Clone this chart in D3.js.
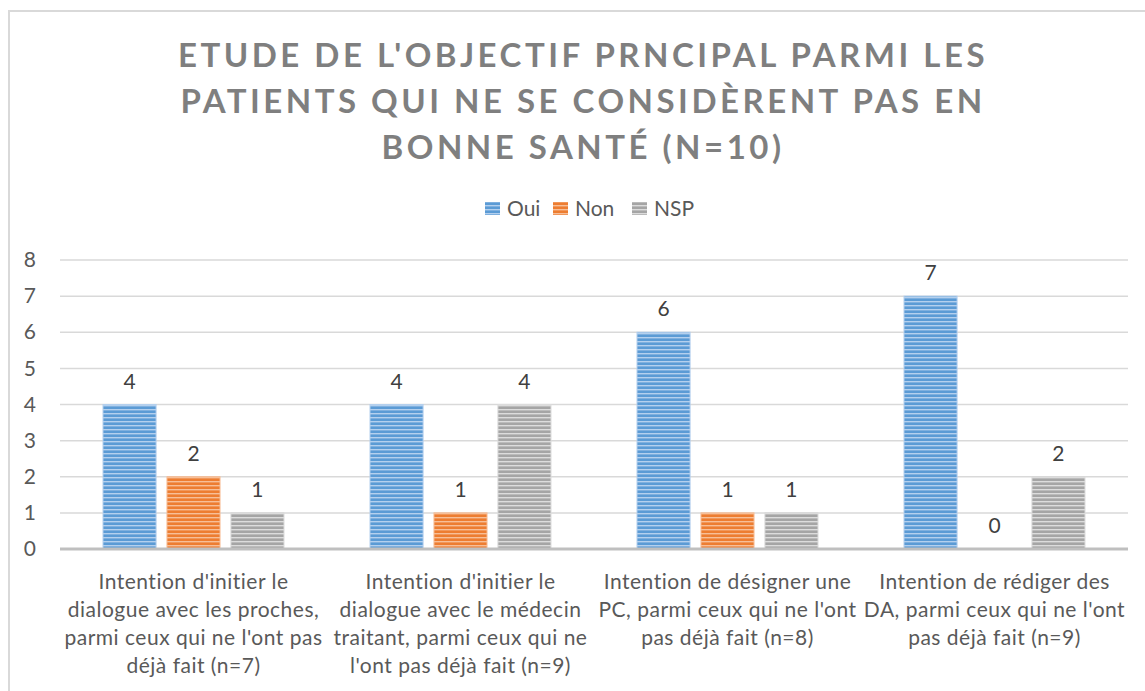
<!DOCTYPE html>
<html>
<head>
<meta charset="utf-8">
<script src="https://cdn.jsdelivr.net/npm/d3@7"></script>
<style>
  body { margin: 0; background: #fff; }
  svg { display: block; font-family: Lato, "Open Sans", sans-serif; }
</style>
</head>
<body>
<svg id="chart" width="1145" height="691"></svg>
<script>
// data
const titleLines = ["ETUDE DE L'OBJECTIF PRNCIPAL PARMI LES", "PATIENTS QUI NE SE CONSIDÈRENT PAS EN", "BONNE SANTÉ (N=10)"];
const categories = [
  ["Intention d'initier le", "dialogue avec les proches,", "parmi ceux qui ne l'ont pas", "déjà fait (n=7)"],
  ["Intention d'initier le", "dialogue avec le médecin", "traitant, parmi ceux qui ne", "l'ont pas déjà fait (n=9)"],
  ["Intention de désigner une", "PC, parmi ceux qui ne l'ont", "pas déjà fait (n=8)"],
  ["Intention de rédiger des", "DA, parmi ceux qui ne l'ont", "pas déjà fait (n=9)"]
];
const seriesNames = ["Oui", "Non", "NSP"];
const oui = [4, 4, 6, 7];
const non = [2, 1, 1, 0];
const nsp = [1, 4, 1, 2];
const yTicks = [0, 1, 2, 3, 4, 5, 6, 7, 8];

const seriesValues = [oui, non, nsp];
const colors = {
  Oui: { base: "#5b9bd5", light: "#b4d0ee" },
  Non: { base: "#ed7d31", light: "#f7bf98" },
  NSP: { base: "#a5a5a5", light: "#dcdcdc" }
};

const svg = d3.select("#chart");

// striped fills
const defs = svg.append("defs");
seriesNames.forEach(function (s) {
  const p = defs.append("pattern")
    .attr("id", "pat-" + s)
    .attr("patternUnits", "userSpaceOnUse")
    .attr("width", 8).attr("height", 4);
  p.append("rect").attr("width", 8).attr("height", 4).attr("fill", colors[s].base);
  p.append("rect").attr("y", 1).attr("width", 8).attr("height", 1.4).attr("fill", colors[s].light);
});

// outer frame
svg.append("rect")
  .attr("x", 9).attr("y", 11)
  .attr("width", 1160).attr("height", 700)
  .attr("fill", "none")
  .attr("stroke", "#d9d9d9")
  .attr("stroke-width", 2);

// title
svg.append("g").selectAll("text")
  .data(titleLines)
  .enter()
  .append("text")
  .attr("x", 583)
  .attr("y", function (d, i) { return 67 + i * 46; })
  .attr("text-anchor", "middle")
  .attr("font-size", 33)
  .attr("font-weight", "bold")
  .attr("letter-spacing", 3.5)
  .attr("fill", "#7f7f7f")
  .text(function (d) { return d; });

// legend
const legendX = [485, 553, 632];
const legend = svg.append("g");
seriesNames.forEach(function (s, i) {
  legend.append("rect")
    .attr("x", legendX[i]).attr("y", 202)
    .attr("width", 15).attr("height", 13)
    .attr("fill", "url(#pat-" + s + ")");
  legend.append("text")
    .attr("x", legendX[i] + 22).attr("y", 216)
    .attr("font-size", 21)
    .attr("fill", "#595959")
    .text(s);
});

const margin = { left: 60, right: 17, top: 260, bottom: 142 };
const width = 1145 - margin.left - margin.right;
const height = 691 - margin.top - margin.bottom;
const g = svg.append("g").attr("transform", "translate(" + margin.left + "," + margin.top + ")");

const x0 = d3.scaleBand().domain(d3.range(categories.length)).range([0, width]).padding(0);
const x1 = d3.scaleBand().domain(seriesNames).range([43, x0.bandwidth() - 43]).paddingInner(0.17).paddingOuter(0);
const y = d3.scaleLinear().domain([0, 8]).range([height, 0]);

// gridlines
g.append("g")
  .selectAll("line")
  .data(yTicks.filter(function (t) { return t > 0; }))
  .enter()
  .append("line")
  .attr("x1", 0).attr("x2", width)
  .attr("y1", function (d) { return y(d); })
  .attr("y2", function (d) { return y(d); })
  .attr("stroke", "#d9d9d9")
  .attr("stroke-width", 1.5);

// y axis labels
const yAxis = g.append("g")
  .call(d3.axisLeft(y).tickValues(yTicks).tickSize(0).tickPadding(24));
yAxis.select(".domain").remove();
yAxis.selectAll("text")
  .attr("font-size", 21)
  .attr("font-family", "Lato, 'Open Sans', sans-serif")
  .attr("fill", "#595959");

// bars
const groups = g.selectAll(".grp")
  .data(categories)
  .enter()
  .append("g")
  .attr("transform", function (d, i) { return "translate(" + x0(i) + ",0)"; });

groups.each(function (c, ci) {
  const grp = d3.select(this);
  seriesNames.forEach(function (s, si) {
    const v = seriesValues[si][ci];
    grp.append("rect")
      .attr("x", x1(s))
      .attr("y", y(v))
      .attr("width", x1.bandwidth())
      .attr("height", height - y(v))
      .attr("fill", "url(#pat-" + s + ")")
      .attr("stroke", colors[s].light)
      .attr("stroke-width", 1);
    grp.append("text")
      .attr("x", x1(s) + x1.bandwidth() / 2)
      .attr("y", y(v) - 16)
      .attr("text-anchor", "middle")
      .attr("font-size", 21)
      .attr("fill", "#404040")
      .text(v);
  });
});

// baseline
g.append("line")
  .attr("x1", 0).attr("x2", width)
  .attr("y1", height).attr("y2", height)
  .attr("stroke", "#bfbfbf")
  .attr("stroke-width", 3);

// category labels
groups.each(function (c) {
  d3.select(this).append("text")
    .attr("text-anchor", "middle")
    .attr("font-size", 21)
    .attr("letter-spacing", 0.5)
    .attr("fill", "#595959")
    .selectAll("tspan")
    .data(c)
    .enter()
    .append("tspan")
    .attr("x", x0.bandwidth() / 2)
    .attr("y", function (d, i) { return height + 40 + i * 28; })
    .text(function (d) { return d; });
});
</script>
</body>
</html>
